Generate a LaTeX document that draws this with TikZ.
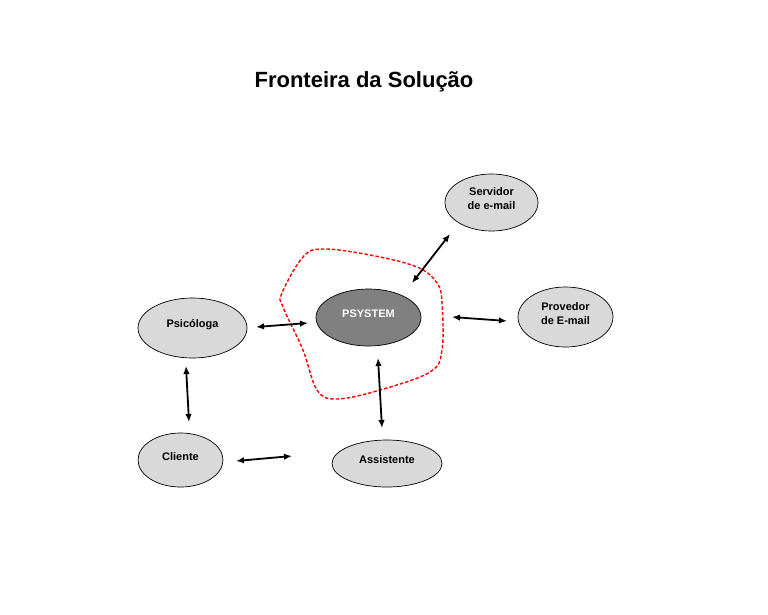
\documentclass[tikz,border=0pt]{standalone}
\usepackage{fontspec}
\setmainfont{Liberation Sans}
\usetikzlibrary{arrows.meta,shapes.geometric}
\begin{document}
\begin{tikzpicture}[x=1pt,y=-1pt,
  actor/.style={draw=black,line width=0.7pt,fill=black!15,ellipse,inner sep=0pt},
  lbl/.style={font=\bfseries\fontsize{11}{14}\selectfont,align=center,yshift=3.5pt,inner sep=0pt},
  link/.style={line width=1.8pt,{Latex[length=8pt,width=6.5pt]}-{Latex[length=8pt,width=6.5pt]}},
  boundary/.style={draw=red,line width=1.4pt,dash pattern=on 3.5pt off 2pt}]
\useasboundingbox (0,0) rectangle (768,614);
\fill[white] (0,0) rectangle (768,614);
\node[font=\bfseries\fontsize{22}{26}\selectfont,anchor=base] (title) at (364,87) {Fronteira da Solução};
\node[actor,minimum width=93pt,minimum height=57pt,label={[lbl]center:Servidor\\de e-mail}] (servidor) at (491.5,202.5) {};
\node[actor,minimum width=95pt,minimum height=60pt,label={[lbl]center:Provedor\\de E-mail}] (provedor) at (565.5,317) {};
\node[actor,minimum width=105pt,minimum height=57pt,fill=black!50,label={[lbl,text=white]center:PSYSTEM}] (psystem) at (368.5,317.5) {};
\node[actor,minimum width=109pt,minimum height=60pt,label={[lbl]center:Psicóloga}] (psicologa) at (192.5,328) {};
\node[actor,minimum width=85pt,minimum height=54pt,label={[lbl]center:Cliente}] (cliente) at (180.5,460) {};
\node[actor,minimum width=110pt,minimum height=47pt,label={[lbl]center:Assistente}] (assistente) at (387,463.5) {};
\draw[boundary] plot[smooth cycle,tension=0.6] coordinates {(323,249) (370,255) (417,267) (437,283) (442,303) (442,350) (430,372) (380,390) (337,399) (317,390) (303,350) (283,307) (282,293) (303,257)};
\coordinate (a1) at (450,234); \coordinate (a2) at (412,283);
\coordinate (b1) at (256,327); \coordinate (b2) at (308,323);
\coordinate (c1) at (452,317); \coordinate (c2) at (507,321);
\coordinate (d1) at (378,358); \coordinate (d2) at (382,428);
\coordinate (e1) at (186,366); \coordinate (e2) at (189,422);
\coordinate (f1) at (236,461); \coordinate (f2) at (292,456);
\draw[link] (a1) -- (a2);
\draw[link] (b1) -- (b2);
\draw[link] (c1) -- (c2);
\draw[link] (d1) -- (d2);
\draw[link] (e1) -- (e2);
\draw[link] (f1) -- (f2);
\end{tikzpicture}
\end{document}
